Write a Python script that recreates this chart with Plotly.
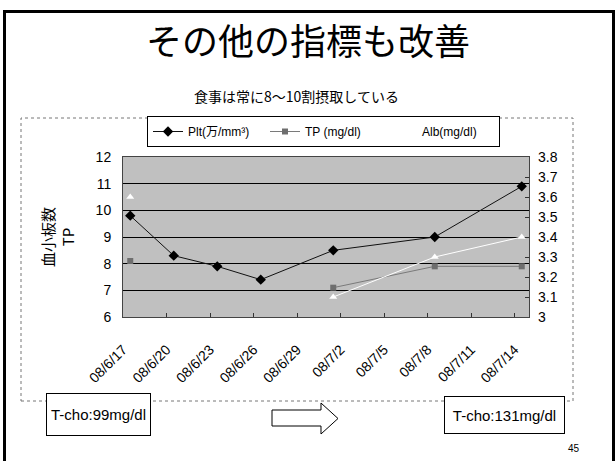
import plotly.graph_objects as go
import pandas as pd

# Measurement dates and values
dates = ["2008-06-17", "2008-06-20", "2008-06-23", "2008-06-26",
         "2008-07-01", "2008-07-08", "2008-07-14"]
plt_counts = [9.8, 8.3, 7.9, 7.4, 8.5, 9.0, 10.9]          # Plt (万/mm³), left axis
tp_values = [8.1, None, None, None, 7.1, 7.9, 7.9]          # TP (mg/dl), left axis
alb_values = [3.6, None, None, None, 3.1, 3.3, 3.4]         # Alb (mg/dl), right axis

# Axis ticks
tick_dates = ["2008-06-17", "2008-06-20", "2008-06-23", "2008-06-26", "2008-06-29",
              "2008-07-02", "2008-07-05", "2008-07-08", "2008-07-11", "2008-07-14"]
tick_labels = ["08/6/17", "08/6/20", "08/6/23", "08/6/26", "08/6/29",
               "08/7/2", "08/7/5", "08/7/8", "08/7/11", "08/7/14"]
left_ticks = [6, 7, 8, 9, 10, 11, 12]
right_ticks = [3, 3.1, 3.2, 3.3, 3.4, 3.5, 3.6, 3.7, 3.8]

W, H = 615, 461
L, R, T, B = 123, 529, 157, 317  # plot area in pixels


def px(x):
    return (x - L) / (R - L)


def py(y):
    return (B - y) / (B - T)


JP = "Noto Sans CJK JP"
NUM = "Liberation Sans, Arial, Noto Sans CJK JP"

# each day occupies one slot; ticks sit on slot boundaries
half_day = pd.Timedelta(hours=12)
tick_pos = [d - half_day for d in pd.to_datetime(tick_dates)]
x_start = pd.to_datetime(tick_dates[0]) - half_day
x_end = pd.to_datetime(tick_dates[-1]) + half_day

fig = go.Figure()
fig.add_trace(go.Scatter(
    x=dates, y=plt_counts, name="Plt(万/mm³)", mode="lines+markers",
    line=dict(color="#111111", width=1),
    marker=dict(symbol="diamond", size=8, color="#000000"),
))
fig.add_trace(go.Scatter(
    x=dates, y=tp_values, name="TP (mg/dl)", mode="lines+markers",
    line=dict(color="#7a7a7a", width=1), connectgaps=False,
    marker=dict(symbol="square", size=6, color="#6e6e6e"),
))
fig.add_trace(go.Scatter(
    x=dates, y=alb_values, name="Alb(mg/dl)", mode="lines+markers", yaxis="y2",
    line=dict(color="#ffffff", width=1), connectgaps=False,
    marker=dict(symbol="triangle-up", size=7, color="#ffffff"),
))

shapes = [
    # slide frame
    dict(type="line", xref="paper", yref="paper", x0=px(3), x1=px(615), y0=py(11.5), y1=py(11.5),
         line=dict(color="black", width=3)),
    dict(type="line", xref="paper", yref="paper", x0=px(4.5), x1=px(4.5), y0=py(10), y1=py(461),
         line=dict(color="black", width=3)),
    dict(type="line", xref="paper", yref="paper", x0=px(613.5), x1=px(613.5), y0=py(10), y1=py(461),
         line=dict(color="black", width=3)),
    # chart area outline
    dict(type="rect", xref="paper", yref="paper", x0=px(21), x1=px(573), y0=py(401), y1=py(118),
         line=dict(color="#777777", width=1, dash="dot"), layer="below"),
]

# block arrow between the two T-cho boxes
arrow_pts = [(272, 410), (321, 410), (321, 403), (338, 418.5), (321, 434), (321, 426), (272, 426)]
path = "M " + " L ".join(f"{px(x):.5f},{py(y):.5f}" for x, y in arrow_pts) + " Z"
shapes.append(dict(type="path", xref="paper", yref="paper", path=path,
                   fillcolor="white", line=dict(color="black", width=1)))

annotations = [
    dict(text="その他の指標も改善", x=px(308), y=py(39), xref="paper", yref="paper",
         showarrow=False, font=dict(family=JP, size=36, color="black"), xanchor="center", yanchor="middle"),
    dict(text="食事は常に8～10割摂取している", x=px(296), y=py(96), xref="paper", yref="paper",
         showarrow=False, font=dict(family=JP, size=14, color="black"), xanchor="center", yanchor="middle"),
    dict(text="T-cho:99mg/dl", x=px(98.5), y=py(414.5), xref="paper", yref="paper",
         showarrow=False, font=dict(family=NUM, size=15, color="black"),
         width=103, height=41, bordercolor="black", borderwidth=1, borderpad=0, bgcolor="white",
         xanchor="center", yanchor="middle"),
    dict(text="T-cho:131mg/dl", x=px(504.5), y=py(415), xref="paper", yref="paper",
         showarrow=False, font=dict(family=NUM, size=15, color="black"),
         width=119, height=36, bordercolor="black", borderwidth=1, borderpad=0, bgcolor="white",
         xanchor="center", yanchor="middle"),
    dict(text="45", x=px(574), y=py(448), xref="paper", yref="paper",
         showarrow=False, font=dict(family=NUM, size=10, color="black"), xanchor="center", yanchor="middle"),
]

fig.update_layout(
    width=W, height=H,
    margin=dict(l=L, r=W - R, t=T, b=H - B, autoexpand=False),
    paper_bgcolor="white",
    plot_bgcolor="#c0c0c0",
    showlegend=True,
    legend=dict(
        orientation="h", x=px(323.5), xanchor="center", y=py(116), yanchor="top",
        bgcolor="white", bordercolor="black", borderwidth=1,
        font=dict(family=NUM, size=12, color="black"),
        itemwidth=30, entrywidth=72, tracegroupgap=0,
    ),
    xaxis=dict(
        type="date", range=[x_start, x_end],
        tickmode="array", tickvals=tick_pos, ticktext=tick_labels, tickangle=-45,
        ticks="inside", ticklen=4, tickcolor="#333333",
        ticklabelstandoff=18,
        tickfont=dict(family=NUM, size=14, color="black"),
        showgrid=False, zeroline=False,
        showline=True, linecolor="#444444", linewidth=1, mirror=True,
    ),
    yaxis=dict(
        range=[6, 12], tickmode="array", tickvals=left_ticks,
        tickfont=dict(family=NUM, size=14, color="black"),
        ticks="", ticklabelstandoff=8,
        showgrid=True, gridcolor="#000000", gridwidth=1, zeroline=False,
        showline=True, linecolor="#444444", linewidth=1, mirror=True,
        title=dict(text="血小板数<br>TP", font=dict(family=JP, size=15, color="black"), standoff=17),
    ),
    yaxis2=dict(
        range=[3, 3.8], tickmode="array", tickvals=right_ticks, overlaying="y", side="right",
        tickfont=dict(family=NUM, size=14, color="black"),
        ticks="inside", ticklen=4, tickcolor="#333333", ticklabelstandoff=8,
        showgrid=False, zeroline=False, showline=False,
    ),
    shapes=shapes,
    annotations=annotations,
)

fig.write_html("out.html")
